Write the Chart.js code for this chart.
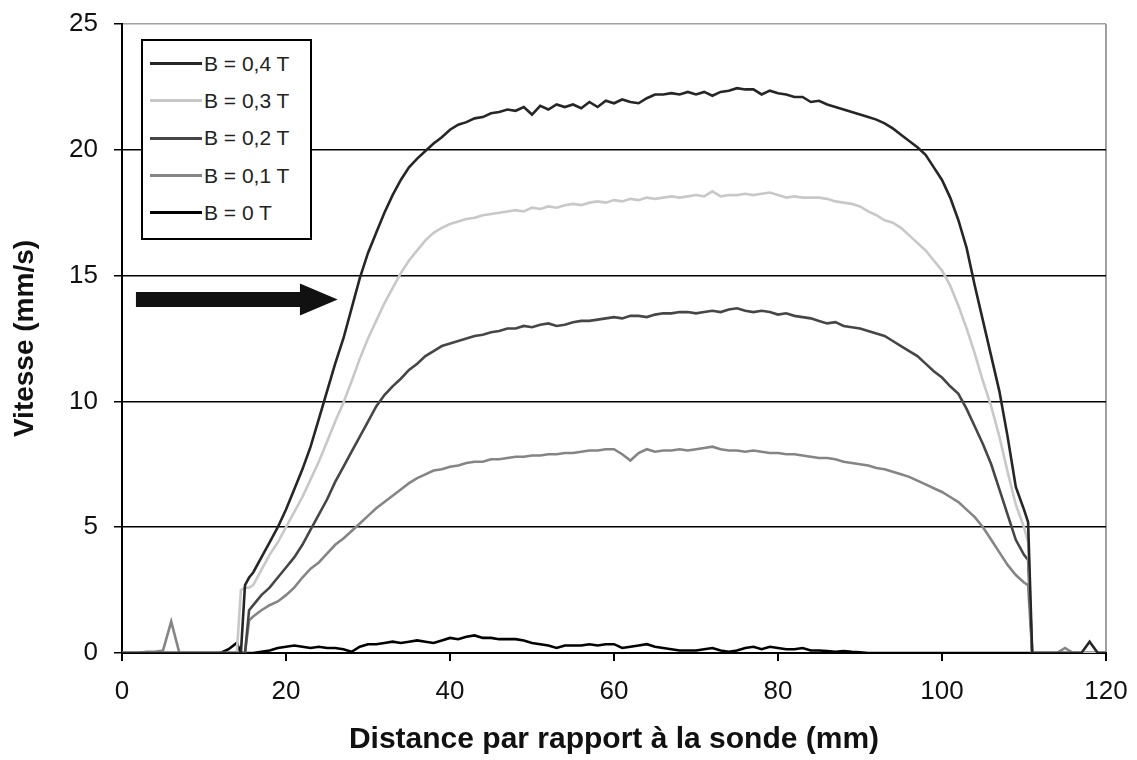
<!DOCTYPE html>
<html>
<head>
<meta charset="utf-8">
<script src="https://cdn.jsdelivr.net/npm/chart.js@4.4.1/dist/chart.umd.min.js"></script>
<style>
  body { margin: 0; background: #fff; }
  #wrap { position: relative; width: 1137px; height: 760px; }
  #legend {
    position: absolute; left: 141px; top: 39px; width: 167px; height: 193px;
    border: 2px solid #000; background: #fff; padding-top: 4px; box-sizing: content-box;
    font-family: "Liberation Sans", Arial, sans-serif; font-size: 21px; color: #222;
  }
  #legend div { height: 37.3px; display: flex; align-items: center; white-space: nowrap; }
  #legend span.ln { display: inline-block; width: 52px; height: 3px; margin-left: 7px; margin-right: 2px; }
</style>
</head>
<body>
<div id="wrap">
  <canvas id="myChart"></canvas>
  <div id="legend"></div>
</div>
<script>
// distance (mm)
const xs = [0,1,2,3,4,5,6,7,8,9,10,11,12,13,14,14.5,15,15.5,
  16,17,18,19,20,21,22,23,24,25,26,27,28,29,30,31,32,33,34,35,
  36,37,38,39,40,41,42,43,44,45,46,47,48,49,50,51,52,53,54,55,
  56,57,58,59,60,61,62,63,64,65,66,67,68,69,70,71,72,73,74,75,
  76,77,78,79,80,81,82,83,84,85,86,87,88,89,90,91,92,93,94,95,
  96,97,98,99,100,101,102,103,104,105,106,107,108,109,110,110.5,
  111,112,113,114,115,116,117,118,119,120];

const labels = ['B = 0,4 T', 'B = 0,3 T', 'B = 0,2 T', 'B = 0,1 T', 'B = 0 T'];
const colors = ['#262626', '#c8c8c8', '#464646', '#858585', '#000000'];

// vitesse (mm/s)
const b04 = [0,0,0,0,0,0,0,0,0,0, 0,0,0,0,0, 0,2.7,3.0,
  3.2,3.8,4.4,5.0,5.7,6.5,7.3,8.2,9.3,10.4,
  11.5,12.5,13.7,14.9,15.9,16.7,17.5,18.2,18.8,19.3,
  19.65,19.95,20.25,20.5,20.8,21.0,21.1,21.25,21.3,21.45,
  21.5,21.6,21.55,21.7,21.4,21.75,21.6,21.8,21.7,21.8,
  21.65,21.9,21.7,21.95,21.85,22.0,21.9,21.85,22.05,22.2,
  22.2,22.25,22.2,22.3,22.2,22.3,22.15,22.3,22.35,22.45,
  22.4,22.4,22.2,22.35,22.25,22.2,22.1,22.1,21.9,21.95,
  21.8,21.7,21.6,21.5,21.4,21.3,21.2,21.05,20.85,20.6,
  20.35,20.1,19.8,19.3,18.8,18.1,17.2,16.1,14.6,13.2,
  11.8,10.4,8.6,6.6,5.7,5.2,
  0,0,0,0,0,0,0,0.45,0,0];

const b03 = [0,0,0,0,0,0,0,0,0,0, 0,0,0,0,0, 2.5,2.6,2.6,
  2.7,3.3,3.9,4.4,5.0,5.6,6.2,6.9,7.6,8.4,
  9.2,9.95,10.8,11.7,12.5,13.2,13.9,14.5,15.1,15.6,
  16.0,16.4,16.7,16.9,17.05,17.15,17.25,17.3,17.4,17.45,
  17.5,17.55,17.6,17.55,17.7,17.65,17.75,17.7,17.8,17.85,
  17.8,17.9,17.95,17.9,18.0,17.95,18.05,18.0,18.1,18.05,
  18.1,18.15,18.1,18.15,18.2,18.15,18.35,18.15,18.2,18.2,
  18.25,18.2,18.25,18.3,18.2,18.1,18.15,18.1,18.1,18.1,
  18.05,17.95,17.9,17.85,17.75,17.55,17.4,17.2,17.1,16.9,
  16.6,16.3,16.0,15.6,15.2,14.6,13.8,12.9,11.9,10.8,
  9.8,8.6,7.2,5.9,5.0,4.4,
  0,0,0,0,0,0,0,0,0,0];

const b02 = [0,0,0,0,0,0,0,0,0,0, 0,0,0,0,0, 0,0,1.7,
  1.9,2.3,2.6,3.0,3.4,3.8,4.3,4.9,5.5,6.1,
  6.8,7.4,8.0,8.6,9.2,9.8,10.25,10.6,10.9,11.25,
  11.5,11.8,12.0,12.2,12.3,12.4,12.5,12.6,12.65,12.75,
  12.8,12.9,12.9,13.0,12.95,13.05,13.1,13.0,13.05,13.15,
  13.2,13.2,13.25,13.3,13.35,13.3,13.4,13.4,13.35,13.45,
  13.5,13.5,13.55,13.55,13.5,13.55,13.6,13.55,13.65,13.7,
  13.6,13.55,13.6,13.55,13.45,13.5,13.4,13.35,13.3,13.2,
  13.1,13.15,13.0,12.95,12.9,12.8,12.7,12.6,12.4,12.2,
  12.0,11.8,11.5,11.2,10.95,10.6,10.3,9.7,9.0,8.3,
  7.5,6.5,5.5,4.5,3.9,3.7,
  0,0,0,0,0,0,0,0,0,0];

const b01 = [0,0,0,0.05,0.05,0.1,1.25,0,0,0, 0,0,0,0,0, 0,0,1.3,
  1.45,1.7,1.9,2.05,2.3,2.6,3.0,3.35,3.6,3.95,
  4.3,4.55,4.85,5.15,5.45,5.75,6.0,6.25,6.5,6.75,
  6.95,7.1,7.25,7.3,7.4,7.45,7.55,7.6,7.6,7.7,
  7.7,7.75,7.8,7.8,7.85,7.85,7.9,7.9,7.95,7.95,
  8.0,8.05,8.05,8.1,8.1,7.9,7.65,7.95,8.1,8.0,
  8.05,8.05,8.1,8.05,8.1,8.15,8.2,8.1,8.05,8.05,
  8.0,8.05,8.0,7.95,7.95,7.9,7.9,7.85,7.8,7.75,
  7.75,7.7,7.6,7.55,7.5,7.45,7.35,7.3,7.2,7.1,
  7.0,6.85,6.7,6.55,6.4,6.2,6.0,5.7,5.4,5.0,
  4.5,4.0,3.5,3.1,2.8,2.7,
  0,0,0,0,0.2,0,0,0,0,0];

const b00 = [0,0,0,0,0,0,0,0,0,0, 0,0,0,0.15,0.4, 0,0,0,
  0,0.05,0.1,0.2,0.25,0.3,0.25,0.2,0.25,0.2,
  0.2,0.15,0.05,0.25,0.35,0.35,0.4,0.45,0.4,0.45,
  0.5,0.45,0.4,0.5,0.6,0.55,0.65,0.7,0.6,0.6,
  0.55,0.55,0.55,0.5,0.4,0.35,0.3,0.2,0.3,0.3,
  0.3,0.35,0.3,0.35,0.35,0.2,0.25,0.3,0.35,0.25,
  0.2,0.15,0.1,0.1,0.1,0.15,0.2,0.1,0.05,0.1,
  0.2,0.25,0.15,0.25,0.2,0.15,0.15,0.2,0.1,0.1,
  0.08,0.05,0.08,0.05,0.03,0,0,0,0,0,
  0,0,0,0,0,0,0,0,0,0,
  0,0,0,0,0,0,
  0,0,0,0,0,0,0,0,0,0];

const series = [b04, b03, b02, b01, b00];

// arrow annotation (in axis units)
const arrowFrom = 1.7, arrowBase = 21.7, arrowTo = 26.3, arrowY = 14.05;

const font = '"Liberation Sans", Arial, sans-serif';

const arrowPlugin = {
  id: 'arrow',
  afterDatasetsDraw(chart) {
    const c = chart.ctx, x = chart.scales.x, y = chart.scales.y;
    const x0 = x.getPixelForValue(arrowFrom), x1 = x.getPixelForValue(arrowBase);
    const x2 = x.getPixelForValue(arrowTo), yc = y.getPixelForValue(arrowY);
    c.save();
    c.fillStyle = '#111';
    c.beginPath();
    c.moveTo(x0, yc - 7.5);
    c.lineTo(x1, yc - 7.5);
    c.lineTo(x1, yc - 16);
    c.lineTo(x2, yc);
    c.lineTo(x1, yc + 16);
    c.lineTo(x1, yc + 7.5);
    c.lineTo(x0, yc + 7.5);
    c.closePath();
    c.fill();
    c.restore();
  }
};

const config = {
  type: 'line',
  data: {
    datasets: series.map((s, i) => ({
      label: labels[i],
      data: xs.map((x, j) => ({ x: x, y: s[j] })),
      borderColor: colors[i],
      borderWidth: 2.6,
      pointRadius: 0,
      tension: 0,
      fill: false
    }))
  },
  options: {
    responsive: true,
    maintainAspectRatio: false,
    animation: false,
    layout: { padding: { top: 24, right: 31, left: 0, bottom: 0 } },
    plugins: { legend: { display: false }, tooltip: { enabled: false } },
    scales: {
      x: {
        type: 'linear', min: 0, max: 120,
        afterFit: (s) => { s.height = 107; s.paddingLeft = 0; s.paddingRight = 0; },
        ticks: { stepSize: 20, color: '#111', padding: 15, font: { family: font, size: 26 } },
        grid: {
          color: (ctx) => ctx.tick && ctx.tick.value === 120 ? '#a0a0a0' : 'rgba(0,0,0,0)',
          lineWidth: 2, tickColor: '#000', tickLength: 8, drawOnChartArea: true
        },
        border: { display: true, color: '#000', width: 2 },
        title: {
          display: true, text: 'Distance par rapport à la sonde (mm)', color: '#111',
          font: { family: font, size: 30, weight: 'bold' }, padding: { top: 0, bottom: 2 }
        }
      },
      y: {
        min: 0, max: 25,
        afterFit: (s) => { s.width = 122; s.paddingTop = 0; s.paddingBottom = 0; },
        ticks: { stepSize: 5, color: '#111', padding: 16, font: { family: font, size: 26 } },
        grid: {
          color: (ctx) => ctx.tick && ctx.tick.value === 25 ? '#a0a0a0' : '#000',
          lineWidth: 1.5, tickColor: '#000', tickLength: 8
        },
        border: { display: true, color: '#000', width: 2 },
        title: {
          display: true, text: 'Vitesse (mm/s)', color: '#111',
          font: { family: font, size: 28, weight: 'bold' }, padding: { top: 8, bottom: 0 }
        }
      }
    }
  },
  plugins: [arrowPlugin]
};

var ctx = document.getElementById('myChart').getContext('2d');
var grafica = new Chart(ctx, config);

// legend box drawn inside the plot like the original
var lg = document.getElementById('legend');
grafica.data.datasets.forEach(function (d) {
  var row = document.createElement('div');
  row.innerHTML = '<span class="ln" style="background:' + d.borderColor + '"></span>' + d.label;
  lg.appendChild(row);
});
</script>
</body>
</html>
